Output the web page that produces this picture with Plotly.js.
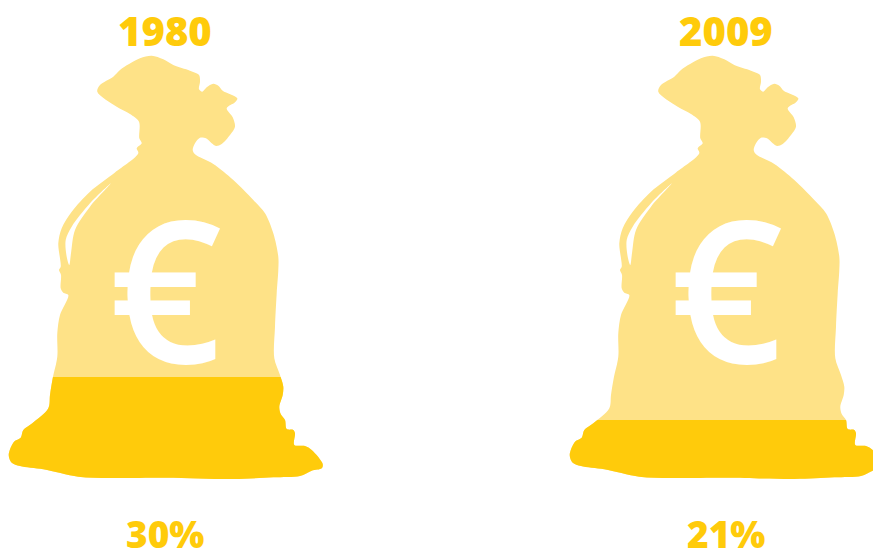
<!DOCTYPE html>
<html><head><meta charset="utf-8">
<script src="https://cdn.plot.ly/plotly-3.0.1.min.js"></script>
<style>html,body{margin:0;padding:0;background:#fff}#c{width:873px;height:552px}</style></head>
<body><div id="c"></div>
<script>
const years = ["1980", "2009"];
const shares = ["30%", "21%"];
const bagOffset = [0, 561];
const fillTop = [377, 420];
const bagX = [151.7,163.3,173.3,190,199,200,199,202.3,206.7,213.3,218.3,222.7,237.3,235,226.7,232.7,235,230,221.7,216,211.7,206,200,195,192.7,195,213.3,233.3,253.3,265,273.3,278.3,278.3,276.7,275,274.3,280,283.3,282.7,279.3,280.7,285,286.7,293.3,295,294.3,305,311.7,322.7,321.7,311.7,300,273.3,233.3,166.7,110,78.3,43.3,20,11.7,8.7,14,20.7,23.3,32.3,48.3,50,52.7,57.3,57.3,60,68.3,63.3,60.7,61,59,60.7,58.3,61.7,71.7,90,115,138.3,136.7,141.7,139.3,139,130,116.7,97.3,100,113.3,120,140,151.7];
const bagY = [55.7,59.3,65,70.7,75,81.7,89.3,91.7,87.3,83.7,85.7,90.7,98.3,102.3,108.3,117.3,126.7,135,144,146,143.3,138.3,137.7,143.3,150,154.3,164,180,200,213.3,233.3,256.7,270,293.3,326.7,358.3,375,386.7,395,406.7,414,420,429,430,433.3,445,446,450,464,468.3,470.7,476,477.3,479,477.7,478,476.7,469.3,466,462.7,455,441.7,437.7,430,423.3,408.3,395,378.3,356.7,333.3,315,295,292.7,288.3,275,270,266.7,243.3,228.3,211.7,191.7,172.5,153.3,148.3,143.3,138.3,121.7,114,106.7,91.7,85,76.7,70,58.3,55.7];
const slitX = [111,90,71.7,65.7,66.7,69.3,71,75,90,111];
const slitY = [183.3,203.3,226.7,240,256.7,265,253.3,230,206.7,183.3];
const euroX = 165, euroY = 286;
const yearCx = 165, shareCx = 165;
const lightColor = "#FEE287", darkColor = "#FFCB0B";
const W = 873, H = 552;

const shift = (arr, d) => arr.map(v => v + d);
const traces = [], annotations = [];
const layout = {
  width: W, height: H, margin: {l:0,r:0,t:0,b:0},
  paper_bgcolor: "#fff", plot_bgcolor: "rgba(0,0,0,0)", showlegend: false,
  xaxis: {range:[0,W], visible:false, fixedrange:true},
  yaxis: {range:[H,0], domain:[0,1], visible:false, fixedrange:true},
  annotations
};
const yearFont = {family:'"Open Sans", sans-serif', size:40, color:darkColor, weight:800};
const shareFont = {family:'"Open Sans", sans-serif', size:37, color:darkColor, weight:800};
years.forEach((yr,i) => {
  const d = bagOffset[i];
  const ln = {shape:"spline", smoothing:0.9, width:0};
  traces.push({type:"scatter", mode:"lines", x:shift(bagX,d), y:bagY, fill:"toself", fillcolor:lightColor, line:{...ln,color:lightColor}, hoverinfo:"skip", xaxis:"x", yaxis:"y"});
  traces.push({type:"scatter", mode:"lines", x:shift(slitX,d), y:slitY, fill:"toself", fillcolor:"#fff", line:{...ln,color:"#fff"}, hoverinfo:"skip", xaxis:"x", yaxis:"y"});
  const ya = "yaxis"+(i+2);
  layout[ya] = {range:[H,fillTop[i]], domain:[0,(H-fillTop[i])/H], visible:false, fixedrange:true, anchor:"x"};
  traces.push({type:"scatter", mode:"lines", x:shift(bagX,d), y:bagY, fill:"toself", fillcolor:darkColor, line:{...ln,color:darkColor}, hoverinfo:"skip", xaxis:"x", yaxis:"y"+(i+2)});
  annotations.push({x:euroX+d, y:euroY, xref:"x", yref:"y", text:"€", showarrow:false, xanchor:"center", yanchor:"middle", font:{family:'"Open Sans", sans-serif', size:198, color:"#fff", weight:600}});
  annotations.push({x:yearCx+d, y:30, xref:"x", yref:"y", text:yr, showarrow:false, xanchor:"center", yanchor:"middle", font:yearFont});
  annotations.push({x:shareCx+d, y:533, xref:"x", yref:"y", text:shares[i], showarrow:false, xanchor:"center", yanchor:"middle", font:shareFont});
});
Plotly.newPlot("c", traces, layout, {displayModeBar:false, staticPlot:true});
</script></body></html>
